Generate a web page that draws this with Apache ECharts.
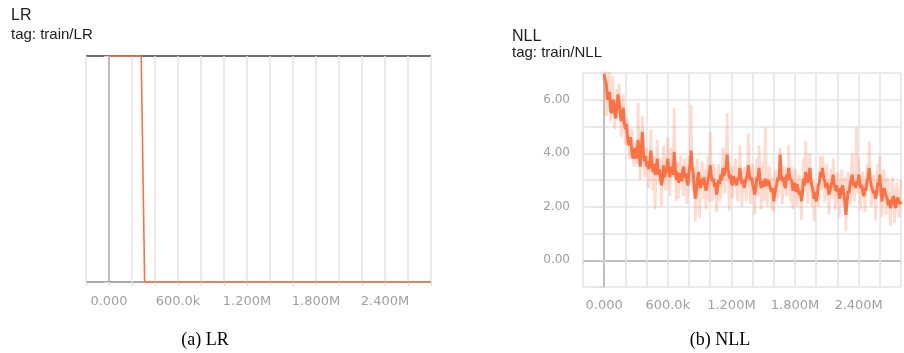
<!DOCTYPE html>
<html>
<head>
<meta charset="utf-8">
<script src="https://cdn.jsdelivr.net/npm/echarts@6/dist/echarts.min.js"></script>
<style>
  html, body { margin: 0; padding: 0; background: #fff; }
  #chart { width: 904px; height: 353px; }
</style>
</head>
<body>
<div id="chart"></div>
<script>
// Training step axis shared by both panels
const STEP_MIN = -200000;
const STEP_MAX = 2800000;
const STEP_GRID = 200000;
const STEP_LABEL_EVERY = 600000;

// Learning rate schedule (train/LR)
const LR_STEPS = [0, 280000, 310000, 2800000];
const LR_VALUES = [0.001, 0.001, 0.0001, 0.0001];

// Negative log-likelihood (train/NLL), logged every 10k steps
const NLL_LOG_EVERY = 10000;
const NLL_SMOOTHED = [
  6.95, 6.7, 6.6, 6.0, 6.1, 6.3, 5.6, 5.5, 6.0, 5.9,
  5.5, 5.3, 5.8, 6.2, 5.95, 5.5, 5.2, 5.4, 5.7, 5.1,
  4.9, 5.1, 4.6, 4.3, 4.4, 4.6, 4.1, 3.8, 4.0, 4.2,
  3.8, 4.0, 4.5, 3.9, 3.5, 4.2, 4.8, 4.0, 3.7, 3.9,
  3.5, 3.7, 3.4, 3.6, 4.1, 3.6, 3.3, 3.6, 3.2, 3.3,
  3.8, 3.2, 3.4, 3.4, 2.8, 3.0, 3.55, 3.1, 3.3, 3.4,
  3.8, 3.3, 3.1, 3.5, 3.4, 3.2, 4.05, 3.5, 3.0, 3.3,
  2.9, 3.0, 3.25, 2.95, 3.35, 3.5, 3.1, 3.25, 2.95, 2.8,
  3.3, 3.6, 4.1, 3.5, 3.2, 2.7, 2.3, 2.6, 3.05, 3.3,
  2.85, 2.7, 3.05, 2.8, 3.1, 2.85, 2.6, 2.75, 3.0, 3.2,
  3.55, 3.2, 2.95, 3.05, 2.75, 2.9, 2.45, 2.7, 3.0, 2.85,
  3.2, 3.0, 3.45, 3.15, 3.3, 3.5, 3.95, 3.4, 3.05, 3.2,
  2.9, 2.8, 3.15, 3.0, 2.95, 2.8, 3.1, 3.0, 3.45, 3.1,
  2.85, 3.0, 2.7, 2.9, 3.05, 3.2, 3.55, 3.2, 3.0, 3.1,
  2.85, 2.7, 2.45, 2.7, 3.1, 3.0, 3.45, 3.0, 2.7, 2.95,
  2.9, 2.75, 3.05, 2.9, 2.8, 3.0, 2.85, 2.65, 2.55, 2.7,
  2.2, 2.5, 2.7, 2.9, 3.1, 3.0, 3.95, 3.2, 2.95, 3.1,
  2.8, 2.7, 3.2, 3.0, 3.45, 3.1, 3.05, 2.95, 2.6, 2.9,
  2.75, 2.55, 2.85, 2.8, 2.45, 2.6, 2.2, 2.5, 3.05, 2.8,
  3.3, 3.0, 2.9, 3.1, 3.45, 3.0, 2.75, 2.6, 2.3, 2.55,
  2.2, 2.4, 2.8, 2.9, 3.3, 3.1, 3.45, 3.1, 2.95, 2.7,
  2.9, 2.75, 2.45, 2.6, 2.8, 2.95, 3.2, 2.85, 2.6, 2.8,
  2.55, 2.7, 2.3, 2.45, 2.7, 2.8, 2.5, 2.2, 1.7, 2.1,
  2.6, 2.5, 2.85, 2.9, 3.2, 2.8, 2.9, 2.7, 2.95, 2.8,
  3.2, 2.95, 2.7, 2.8, 2.55, 2.4, 2.7, 2.6, 3.0, 3.1,
  3.45, 3.0, 2.8, 2.75, 2.5, 2.6, 2.3, 2.5, 2.9, 2.8,
  3.2, 2.6, 2.2, 2.5, 2.7, 2.75, 2.4, 2.3, 2.05, 2.25,
  1.95, 2.1, 2.3, 2.4, 2.1, 1.95, 2.2, 2.35, 2.3, 2.1,
  2.2
];
const NLL_RAW = [
  7.6, 6.8, 5.4, 5.8, 7.4, 6.9, 5.2, 5.6, 6.9, 5.9,
  4.9, 5.6, 6.4, 5.5, 6.6, 5.9, 4.6, 5.5, 6.2, 5.2,
  4.3, 4.8, 5.3, 4.6, 3.8, 4.1, 4.9, 4.4, 3.5, 3.9,
  4.4, 3.6, 5.9, 4.3, 3.0, 4.0, 5.4, 4.4, 3.1, 3.9,
  4.2, 3.5, 2.7, 3.4, 4.9, 3.7, 2.6, 3.9, 1.9, 3.1,
  4.5, 3.6, 2.9, 3.8, 2.0, 3.4, 4.3, 3.5, 2.6, 3.3,
  4.6, 3.3, 2.4, 4.2, 3.9, 3.1, 5.7, 3.6, 2.2, 3.7,
  2.3, 3.0, 3.9, 3.4, 2.7, 2.4, 3.8, 3.3, 2.1, 2.8,
  3.9, 2.9, 5.8, 3.3, 2.6, 3.5, 1.45, 2.8, 3.8, 2.5,
  1.6, 2.6, 3.7, 3.3, 2.3, 3.4, 1.9, 2.9, 3.9, 2.2,
  4.8, 3.3, 2.2, 3.6, 3.4, 2.6, 1.8, 2.9, 3.6, 2.2,
  2.4, 3.1, 4.2, 3.1, 2.5, 3.9, 5.5, 3.3, 1.85, 3.0,
  3.5, 2.3, 2.3, 3.6, 3.8, 2.6, 2.2, 3.0, 4.3, 2.9,
  2.0, 3.3, 3.4, 3.5, 2.2, 2.8, 4.75, 3.3, 2.1, 3.0,
  3.6, 2.6, 1.7, 3.0, 3.8, 2.4, 4.3, 3.5, 1.9, 2.9,
  3.7, 2.2, 4.95, 3.3, 2.0, 3.0, 3.5, 2.8, 1.9, 3.1,
  1.8, 3.2, 3.4, 2.5, 2.3, 3.4, 4.2, 3.0, 2.1, 2.8,
  3.5, 3.0, 2.4, 2.7, 4.3, 3.2, 2.2, 3.5, 1.9, 2.8,
  3.4, 3.1, 2.0, 2.5, 3.2, 2.9, 1.5, 2.7, 3.8, 2.6,
  4.45, 3.6, 2.1, 2.9, 4.0, 3.1, 2.0, 3.0, 1.45, 2.5,
  2.9, 2.7, 2.0, 2.9, 3.9, 2.6, 3.9, 3.3, 2.2, 2.5,
  3.6, 3.0, 1.7, 2.8, 3.4, 2.3, 3.8, 3.2, 1.9, 2.4,
  3.3, 3.0, 1.6, 2.8, 3.4, 2.5, 2.0, 3.1, 1.1, 2.4,
  3.3, 2.9, 2.1, 3.3, 4.0, 2.6, 2.2, 2.9, 4.95, 2.5,
  3.8, 2.9, 1.9, 3.2, 3.3, 2.5, 1.8, 2.8, 3.6, 2.6,
  4.45, 3.2, 2.0, 2.4, 3.2, 2.9, 1.5, 2.7, 3.6, 2.4,
  3.9, 2.8, 1.6, 3.0, 3.4, 2.4, 1.7, 3.1, 2.9, 2.5,
  1.3, 2.3, 3.1, 2.6, 1.4, 2.3, 2.9, 2.5, 1.6, 2.2,
  3.0
];

// NLL value axis
const NLL_MIN = -1, NLL_MAX = 7, NLL_GRID = 1;

const ORANGE = '#ff7043';
const ORANGE_FAINT = 'rgba(255,112,67,0.26)';
const GRID_LIGHT = '#e3e3e3';
const GRID_ZERO = '#a8a8a8';
const LABEL_GRAY = '#a0a0a0';
const UI_FONT = '"Liberation Sans", Arial, sans-serif';
const AXIS_FONT = '"DejaVu Sans", sans-serif';

function formatStep(v) {
  if (v < 0 || v % STEP_LABEL_EVERY !== 0) return '';
  if (v === 0) return '0.000';
  if (v < 1e6) return (v / 1000).toFixed(1) + 'k';
  return (v / 1e6).toFixed(3) + 'M';
}

// colour of each vertical split line; the step-0 line is darker
const stepLineColors = [];
for (let s = STEP_MIN; s <= STEP_MAX; s += STEP_GRID) {
  stepLineColors.push(s === 0 ? GRID_ZERO : GRID_LIGHT);
}
const nllLineColors = [];
for (let v = NLL_MIN; v <= NLL_MAX; v += NLL_GRID) {
  nllLineColors.push(v === 0 ? GRID_ZERO : GRID_LIGHT);
}

const lrData = LR_STEPS.map((s, i) => [s, LR_VALUES[i]]);
const nllSmoothData = NLL_SMOOTHED.map((v, i) => [i * NLL_LOG_EVERY, v]);
const nllRawData = NLL_RAW.map((v, i) => [i * NLL_LOG_EVERY, v]);

function stepAxis(gridIndex, labelMargin) {
  return {
    type: 'value', gridIndex,
    min: STEP_MIN, max: STEP_MAX, interval: STEP_GRID,
    axisLine: { show: false },
    axisTick: { show: true, length: 4, lineStyle: { color: '#dcdcdc' } },
    axisLabel: {
      formatter: formatStep, color: LABEL_GRAY, fontSize: 13,
      fontFamily: AXIS_FONT, margin: labelMargin
    },
    splitLine: { show: true, lineStyle: { color: stepLineColors, width: 1.5 } }
  };
}

const chart = echarts.init(document.getElementById('chart'), null, { renderer: 'canvas' });
chart.setOption({
  animation: false,
  grid: [
    { left: 86, right: 473, top: 56, bottom: 71 },
    { left: 583, right: -6, top: 73, bottom: 66 }
  ],
  xAxis: [stepAxis(0, 13), stepAxis(1, 12)],
  yAxis: [
    {
      type: 'value', gridIndex: 0,
      min: LR_VALUES[3], max: LR_VALUES[0], interval: LR_VALUES[0] - LR_VALUES[3],
      axisLine: { show: false },
      axisTick: { show: true, length: 5, lineStyle: { color: '#d0d0d0' } },
      axisLabel: { show: false },
      splitLine: { show: true, lineStyle: { color: ['#a8a8a8', '#6e6e6e'], width: 2 } }
    },
    {
      type: 'value', gridIndex: 1,
      min: NLL_MIN, max: NLL_MAX, interval: NLL_GRID,
      axisLine: { show: false },
      axisTick: { show: true, length: 5, lineStyle: { color: '#dcdcdc' } },
      axisLabel: {
        formatter: v => (v >= 0 && v % 2 === 0) ? v.toFixed(2) : '',
        color: LABEL_GRAY, fontSize: 12, fontFamily: AXIS_FONT, margin: 13
      },
      splitLine: { show: true, lineStyle: { color: nllLineColors, width: 1.5 } }
    }
  ],
  series: [
    {
      name: 'train/LR', type: 'line', xAxisIndex: 0, yAxisIndex: 0,
      data: lrData, showSymbol: false, symbol: 'none',
      lineStyle: { color: ORANGE, width: 1.6 }, z: 3
    },
    {
      name: 'train/NLL raw', type: 'line', xAxisIndex: 1, yAxisIndex: 1,
      data: nllRawData, showSymbol: false, symbol: 'none',
      lineStyle: { color: ORANGE_FAINT, width: 2.6 }, z: 2
    },
    {
      name: 'train/NLL', type: 'line', xAxisIndex: 1, yAxisIndex: 1,
      data: nllSmoothData, showSymbol: false, symbol: 'none',
      lineStyle: { color: ORANGE, width: 2.9 }, z: 3
    }
  ],
  graphic: [
    { type: 'text', x: 11, y: 16, style: { text: 'LR', font: '16px ' + UI_FONT, fill: '#212121', verticalAlign: 'middle' } },
    { type: 'text', x: 11, y: 35, style: { text: 'tag: train/LR', font: '15px ' + UI_FONT, fill: '#212121', verticalAlign: 'middle' } },
    { type: 'text', x: 512, y: 37, style: { text: 'NLL', font: '16px ' + UI_FONT, fill: '#212121', verticalAlign: 'middle' } },
    { type: 'text', x: 512, y: 52.5, style: { text: 'tag: train/NLL', font: '15px ' + UI_FONT, fill: '#212121', verticalAlign: 'middle' } },
    { type: 'text', x: 205, y: 340, style: { text: '(a) LR', font: '18px "Liberation Serif", "Times New Roman", serif', fill: '#000', align: 'center', verticalAlign: 'middle' } },
    { type: 'text', x: 720, y: 340, style: { text: '(b) NLL', font: '18px "Liberation Serif", "Times New Roman", serif', fill: '#000', align: 'center', verticalAlign: 'middle' } }
  ]
});
</script>
</body>
</html>
